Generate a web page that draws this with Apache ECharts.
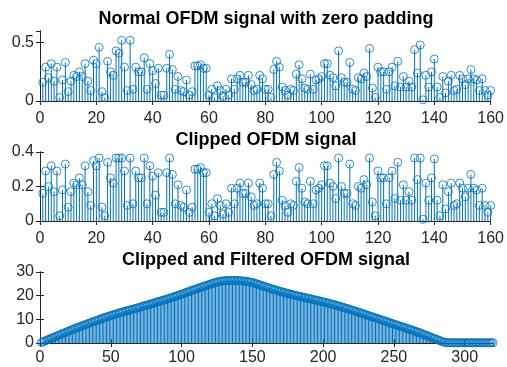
<!DOCTYPE html>
<html>
<head>
<meta charset="utf-8">
<script src="https://cdn.jsdelivr.net/npm/echarts@6/dist/echarts.min.js"></script>
<style>
  html, body { margin: 0; padding: 0; background: #fff; }
  #chart { width: 507px; height: 367px; }
</style>
</head>
<body>
<div id="chart"></div>
<script>
// amplitude of the normal OFDM symbol (samples 1..160)
const normalSignal = [
  0.16, 0.29, 0.20, 0.32, 0.17, 0.29, 0.03, 0.18, 0.33, 0.08,
  0.17, 0.22, 0.21, 0.25, 0.21, 0.32, 0.17, 0.09, 0.35, 0.32,
  0.46, 0.08, 0.03, 0.34, 0.25, 0.22, 0.43, 0.41, 0.52, 0.29,
  0.09, 0.52, 0.10, 0.29, 0.25, 0.25, 0.37, 0.10, 0.32, 0.26,
  0.15, 0.28, 0.05, 0.05, 0.28, 0.40, 0.27, 0.10, 0.21, 0.09,
  0.08, 0.18, 0.05, 0.08, 0.30, 0.30, 0.31, 0.28, 0.28, 0.05,
  0.10, 0.03, 0.13, 0.09, 0.04, 0.10, 0.05, 0.19, 0.10, 0.19,
  0.22, 0.16, 0.16, 0.22, 0.14, 0.09, 0.10, 0.22, 0.19, 0.10,
  0.10, 0.03, 0.27, 0.34, 0.29, 0.12, 0.09, 0.05, 0.10, 0.09,
  0.23, 0.31, 0.19, 0.11, 0.10, 0.23, 0.10, 0.18, 0.19, 0.21,
  0.32, 0.32, 0.22, 0.20, 0.13, 0.43, 0.20, 0.16, 0.16, 0.33,
  0.10, 0.09, 0.20, 0.19, 0.24, 0.21, 0.45, 0.11, 0.03, 0.29,
  0.25, 0.25, 0.10, 0.25, 0.29, 0.13, 0.34, 0.12, 0.21, 0.12,
  0.17, 0.12, 0.44, 0.24, 0.48, 0.01, 0.22, 0.12, 0.25, 0.36,
  0.12, 0.03, 0.21, 0.07, 0.17, 0.22, 0.09, 0.10, 0.22, 0.19,
  0.14, 0.19, 0.27, 0.19, 0.18, 0.09, 0.19, 0.09, 0.05, 0.09
];

// same symbol after clipping
const clippedSignal = [
  0.16, 0.29, 0.20, 0.32, 0.17, 0.29, 0.03, 0.18, 0.33, 0.08,
  0.17, 0.22, 0.21, 0.25, 0.21, 0.32, 0.17, 0.09, 0.35, 0.32,
  0.365, 0.08, 0.03, 0.34, 0.25, 0.22, 0.365, 0.365, 0.365, 0.29,
  0.09, 0.365, 0.10, 0.29, 0.25, 0.25, 0.365, 0.10, 0.32, 0.26,
  0.15, 0.28, 0.05, 0.05, 0.28, 0.365, 0.27, 0.10, 0.21, 0.09,
  0.08, 0.18, 0.05, 0.08, 0.30, 0.30, 0.31, 0.28, 0.28, 0.05,
  0.10, 0.03, 0.13, 0.09, 0.04, 0.10, 0.05, 0.19, 0.10, 0.19,
  0.22, 0.16, 0.16, 0.22, 0.14, 0.09, 0.10, 0.22, 0.19, 0.10,
  0.10, 0.03, 0.27, 0.34, 0.29, 0.12, 0.09, 0.05, 0.10, 0.09,
  0.23, 0.31, 0.19, 0.11, 0.10, 0.23, 0.10, 0.18, 0.19, 0.21,
  0.32, 0.32, 0.22, 0.20, 0.13, 0.365, 0.20, 0.16, 0.16, 0.33,
  0.10, 0.09, 0.20, 0.19, 0.24, 0.21, 0.365, 0.11, 0.03, 0.29,
  0.25, 0.25, 0.10, 0.25, 0.29, 0.13, 0.34, 0.12, 0.21, 0.12,
  0.17, 0.12, 0.365, 0.24, 0.365, 0.01, 0.22, 0.12, 0.25, 0.36,
  0.12, 0.03, 0.21, 0.07, 0.17, 0.22, 0.09, 0.10, 0.22, 0.19,
  0.14, 0.19, 0.27, 0.19, 0.18, 0.09, 0.19, 0.09, 0.05, 0.09
];

// clipped + filtered output (samples 1..320)
const filteredSignal = [
  0.2, 0.5, 0.7, 1.0, 1.2, 1.5, 1.7, 2.0, 2.2, 2.5,
  2.7, 3.0, 3.2, 3.5, 3.7, 4.0, 4.2, 4.5, 4.7, 5.0,
  5.2, 5.5, 5.7, 6.0, 6.2, 6.4, 6.6, 6.9, 7.1, 7.3,
  7.5, 7.7, 8.0, 8.2, 8.4, 8.6, 8.9, 9.1, 9.3, 9.5,
  9.7, 9.9, 10.1, 10.4, 10.6, 10.8, 11.0, 11.2, 11.4, 11.6,
  11.8, 11.9, 12.1, 12.3, 12.5, 12.7, 12.9, 13.0, 13.2, 13.4,
  13.6, 13.7, 13.9, 14.0, 14.2, 14.3, 14.5, 14.7, 14.8, 15.0,
  15.2, 15.4, 15.6, 15.8, 15.9, 16.1, 16.3, 16.4, 16.6, 16.8,
  17.0, 17.2, 17.4, 17.6, 17.7, 17.9, 18.1, 18.2, 18.4, 18.6,
  18.8, 19.0, 19.2, 19.4, 19.6, 19.8, 20.0, 20.2, 20.4, 20.6,
  20.8, 21.1, 21.3, 21.5, 21.7, 21.9, 22.2, 22.4, 22.6, 22.8,
  23.0, 23.2, 23.4, 23.6, 23.8, 24.0, 24.2, 24.4, 24.6, 24.8,
  25.0, 25.2, 25.4, 25.6, 25.8, 25.9, 26.0, 26.1, 26.2, 26.3,
  26.3, 26.4, 26.4, 26.4, 26.5, 26.5, 26.4, 26.4, 26.4, 26.4,
  26.3, 26.3, 26.2, 26.2, 26.1, 26.0, 25.9, 25.8, 25.7, 25.6,
  25.4, 25.2, 25.0, 24.8, 24.6, 24.4, 24.2, 24.0, 23.8, 23.6,
  23.4, 23.2, 23.0, 22.8, 22.6, 22.5, 22.3, 22.1, 21.9, 21.8,
  21.6, 21.4, 21.3, 21.1, 20.9, 20.8, 20.6, 20.5, 20.3, 20.2,
  20.0, 19.9, 19.7, 19.6, 19.5, 19.3, 19.2, 19.1, 18.9, 18.8,
  18.7, 18.5, 18.4, 18.2, 18.1, 18.0, 17.8, 17.7, 17.5, 17.4,
  17.2, 17.1, 16.9, 16.8, 16.6, 16.5, 16.3, 16.2, 16.0, 15.8,
  15.6, 15.5, 15.3, 15.1, 14.9, 14.7, 14.6, 14.4, 14.2, 14.0,
  13.8, 13.6, 13.4, 13.2, 13.0, 12.8, 12.6, 12.4, 12.2, 12.0,
  11.8, 11.6, 11.4, 11.2, 11.0, 10.8, 10.6, 10.4, 10.2, 10.0,
  9.8, 9.6, 9.4, 9.2, 9.0, 8.8, 8.6, 8.4, 8.2, 8.0,
  7.8, 7.6, 7.4, 7.2, 7.0, 6.8, 6.6, 6.4, 6.2, 6.0,
  5.8, 5.6, 5.4, 5.2, 5.0, 4.8, 4.6, 4.4, 4.1, 3.9,
  3.7, 3.4, 3.2, 3.0, 2.7, 2.5, 2.2, 2.0, 1.8, 1.6,
  1.3, 1.1, 0.9, 0.6, 0.4, 0.3, 0.2, 0.1, 0.1, 0.1,
  0.1, 0.1, 0.1, 0.1, 0.1, 0.1, 0.1, 0.1, 0.1, 0.1,
  0.1, 0.1, 0.1, 0.1, 0.1, 0.1, 0.1, 0.1, 0.1, 0.1,
  0.1, 0.1, 0.1, 0.1, 0.1, 0.1, 0.1, 0.1, 0.1, 0.1
];

const titles = [
  'Normal OFDM signal with zero padding',
  'Clipped OFDM signal',
  'Clipped and Filtered OFDM signal'
];

// axis limits / tick steps per subplot
const xMax = [160, 160, 320];
const xStep = [20, 20, 50];
const yMax = [0.6, 0.4, 30];
const yStep = [0.5, 0.2, 10];

const BLUE = '#0072BD';
const AXIS = '#262626';
const FONT = '"Liberation Sans", Arial, sans-serif';

const grids = [
  { left: 40, top: 31, width: 453, height: 70 },
  { left: 40, top: 152, width: 453, height: 69 },
  { left: 40, top: 272, width: 453, height: 71 }
];
const xLabelMargin = [10, 10, 7];

function toPairs(arr) {
  return arr.map((v, i) => [i + 1, v]);
}
const signals = [normalSignal, clippedSignal, filteredSignal].map(toPairs);

const xAxes = [];
const yAxes = [];
const series = [];

grids.forEach((g, k) => {
  const line = { show: true, lineStyle: { color: AXIS, width: 1 } };
  const tick = { show: true, inside: true, length: 4, lineStyle: { color: AXIS } };
  // bottom + mirrored top
  xAxes.push({
    type: 'value', gridIndex: k, position: 'bottom', min: 0, max: xMax[k], interval: xStep[k],
    axisLine: line, axisTick: tick, splitLine: { show: false },
    axisLabel: { color: AXIS, fontSize: 16, fontFamily: FONT, margin: xLabelMargin[k],
      showMaxLabel: xMax[k] % xStep[k] === 0 }
  });
  xAxes.push({
    type: 'value', gridIndex: k, position: 'top', min: 0, max: xMax[k], interval: xStep[k],
    axisLine: line, axisTick: tick, splitLine: { show: false }, axisLabel: { show: false }
  });
  // left + mirrored right
  yAxes.push({
    type: 'value', gridIndex: k, position: 'left', min: 0, max: yMax[k], interval: yStep[k],
    axisLine: line, axisTick: tick, splitLine: { show: false },
    axisLabel: { color: AXIS, fontSize: 16, fontFamily: FONT, margin: 6,
      showMaxLabel: Math.abs(yMax[k] / yStep[k] - Math.round(yMax[k] / yStep[k])) < 1e-9 }
  });
  yAxes.push({
    type: 'value', gridIndex: k, position: 'right', min: 0, max: yMax[k], interval: yStep[k],
    axisLine: line, axisTick: tick, splitLine: { show: false }, axisLabel: { show: false }
  });

  // stems
  series.push({
    type: 'bar', xAxisIndex: 2 * k, yAxisIndex: 2 * k,
    data: signals[k], barWidth: 1, silent: true,
    itemStyle: { color: BLUE }
  });
  // hollow markers
  series.push({
    type: 'scatter', xAxisIndex: 2 * k, yAxisIndex: 2 * k,
    data: signals[k], symbol: 'circle', symbolSize: 8, silent: true,
    itemStyle: { color: 'rgba(0,0,0,0)', borderColor: BLUE, borderWidth: 1 }
  });
});

const chart = echarts.init(document.getElementById('chart'), null, { renderer: 'canvas' });
chart.setOption({
  animation: false,
  backgroundColor: '#fff',
  title: titles.map((t, k) => ({
    text: t,
    left: 266,
    top: grids[k].top - 21,
    textAlign: 'center',
    padding: 0,
    textStyle: { fontSize: 18, fontWeight: 'bold', color: '#000', fontFamily: FONT }
  })),
  grid: grids,
  xAxis: xAxes,
  yAxis: yAxes,
  series: series
});
</script>
</body>
</html>
